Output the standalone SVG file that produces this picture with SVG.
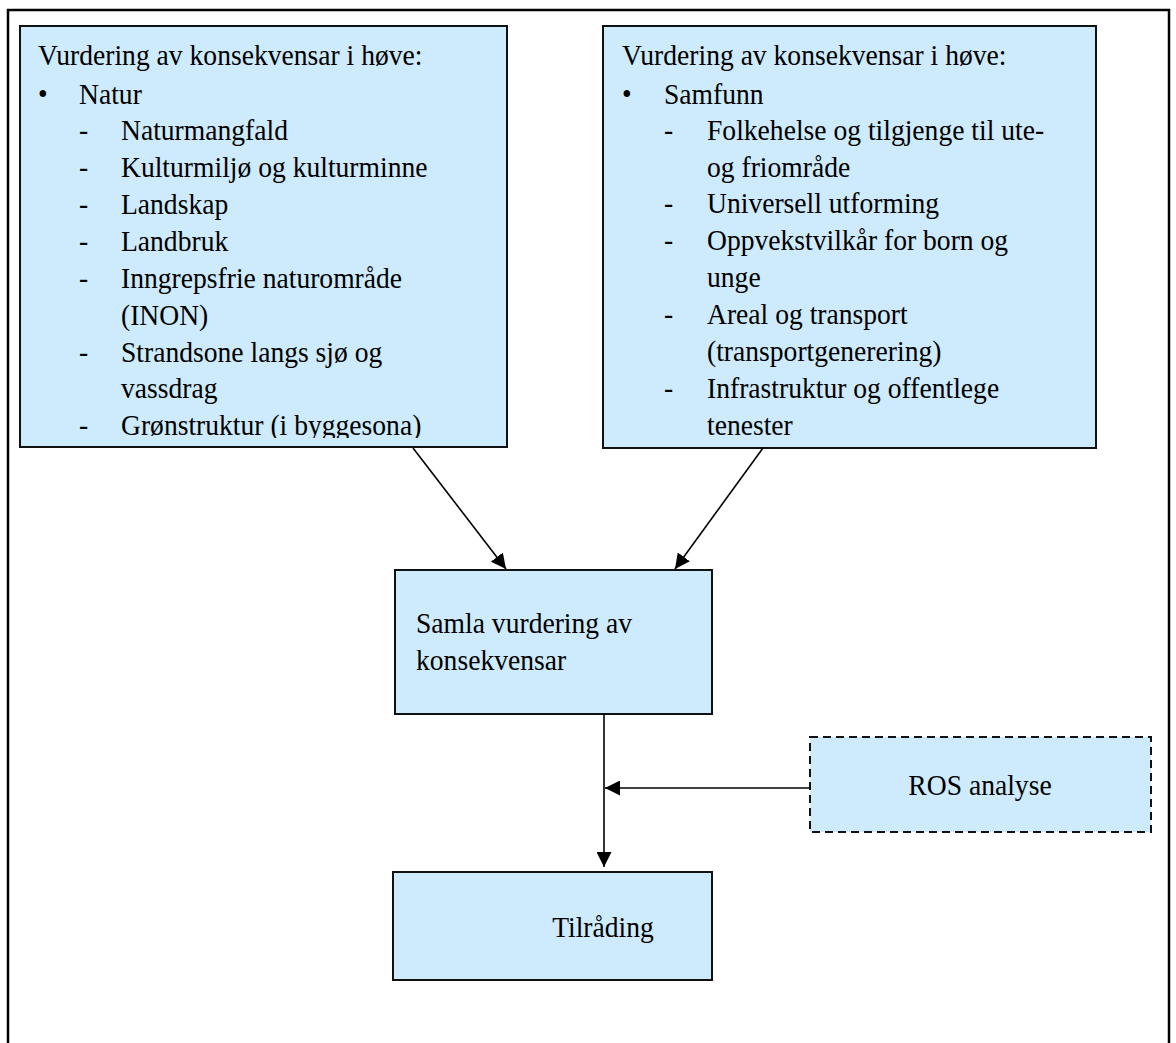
<svg xmlns="http://www.w3.org/2000/svg" width="1176" height="1043" viewBox="0 0 1176 1043">
<style>
.box{fill:#cdebfd;stroke:#111;stroke-width:2}
.dash{fill:#cdebfd;stroke:#111;stroke-width:2;stroke-dasharray:8 5}
.t{font-family:"Liberation Serif","Times New Roman",serif;font-size:30px;fill:#000}
.c{stroke:#000;stroke-width:1.6;fill:none}
</style>
<defs>
<marker id="ah" viewBox="0 0 10 10" refX="10" refY="5" markerWidth="15" markerHeight="15" markerUnits="userSpaceOnUse" orient="auto">
<path d="M0,0 L10,5 L0,10 z" fill="#000"/>
</marker>
<clipPath id="clipL"><rect x="20" y="26" width="487" height="412"/></clipPath>
</defs>
<rect x="0" y="0" width="1176" height="1043" fill="#fff"/>
<rect x="8" y="10" width="1161" height="1060" fill="none" stroke="#000" stroke-width="2.5"/>

<g id="natur">
<rect class="box" x="20" y="26" width="487" height="421"/>
<g clip-path="url(#clipL)">
<g class="t" transform="scale(0.92,1)">
<text x="41.3" y="65.5">Vurdering av konsekvensar i høve:</text>
<text x="41.3" y="104">•</text><text x="85.9" y="104">Natur</text>
<text x="85.9" y="140.5">-</text><text x="131.5" y="140.5">Naturmangfald</text>
<text x="85.9" y="177.5">-</text><text x="131.5" y="177.5">Kulturmiljø og kulturminne</text>
<text x="85.9" y="214.5">-</text><text x="131.5" y="214.5">Landskap</text>
<text x="85.9" y="251">-</text><text x="131.5" y="251">Landbruk</text>
<text x="85.9" y="288">-</text><text x="131.5" y="288">Inngrepsfrie naturområde</text>
<text x="131.5" y="325">(INON)</text>
<text x="85.9" y="362">-</text><text x="131.5" y="362">Strandsone langs sjø og</text>
<text x="131.5" y="398.5">vassdrag</text>
<text x="85.9" y="435.5">-</text><text x="131.5" y="435.5">Grønstruktur (i byggesona)</text>
</g>
</g>
</g>

<g id="samfunn">
<rect class="box" x="603" y="26" width="493" height="422"/>
<g class="t" transform="scale(0.92,1)">
<text x="676.1" y="65.5">Vurdering av konsekvensar i høve:</text>
<text x="676.1" y="104">•</text><text x="721.7" y="104">Samfunn</text>
<text x="721.7" y="140.5">-</text><text x="768.5" y="140.5">Folkehelse og tilgjenge til ute-</text>
<text x="768.5" y="177">og friområde</text>
<text x="721.7" y="213.5">-</text><text x="768.5" y="213.5">Universell utforming</text>
<text x="721.7" y="250.5">-</text><text x="768.5" y="250.5">Oppvekstvilkår for born og</text>
<text x="768.5" y="287">unge</text>
<text x="721.7" y="324.5">-</text><text x="768.5" y="324.5">Areal og transport</text>
<text x="768.5" y="361.5">(transportgenerering)</text>
<text x="721.7" y="398.5">-</text><text x="768.5" y="398.5">Infrastruktur og offentlege</text>
<text x="768.5" y="435.5">tenester</text>
</g>
</g>

<g id="samla">
<rect class="box" x="395" y="570" width="317" height="144"/>
<g class="t" transform="scale(0.92,1)">
<text x="452.2" y="633.5">Samla vurdering av</text>
<text x="452.2" y="670">konsekvensar</text>
</g>
</g>

<g id="ros">
<rect class="dash" x="810" y="737" width="341" height="95"/>
<text class="t" transform="translate(980,795) scale(0.92,1)" x="0" y="0" text-anchor="middle">ROS analyse</text>
</g>

<g id="tilrading">
<rect class="box" x="393" y="872" width="319" height="108"/>
<text class="t" transform="translate(603,937) scale(0.92,1)" x="0" y="0" text-anchor="middle">Tilråding</text>
</g>

<g id="connectors">
<line class="c" x1="413" y1="448" x2="506" y2="569" marker-end="url(#ah)"/>
<line class="c" x1="763" y1="448" x2="675" y2="569" marker-end="url(#ah)"/>
<line class="c" x1="604" y1="714" x2="604" y2="867" marker-end="url(#ah)"/>
<line class="c" x1="810" y1="788" x2="605" y2="788" marker-end="url(#ah)"/>
</g>
</svg>
